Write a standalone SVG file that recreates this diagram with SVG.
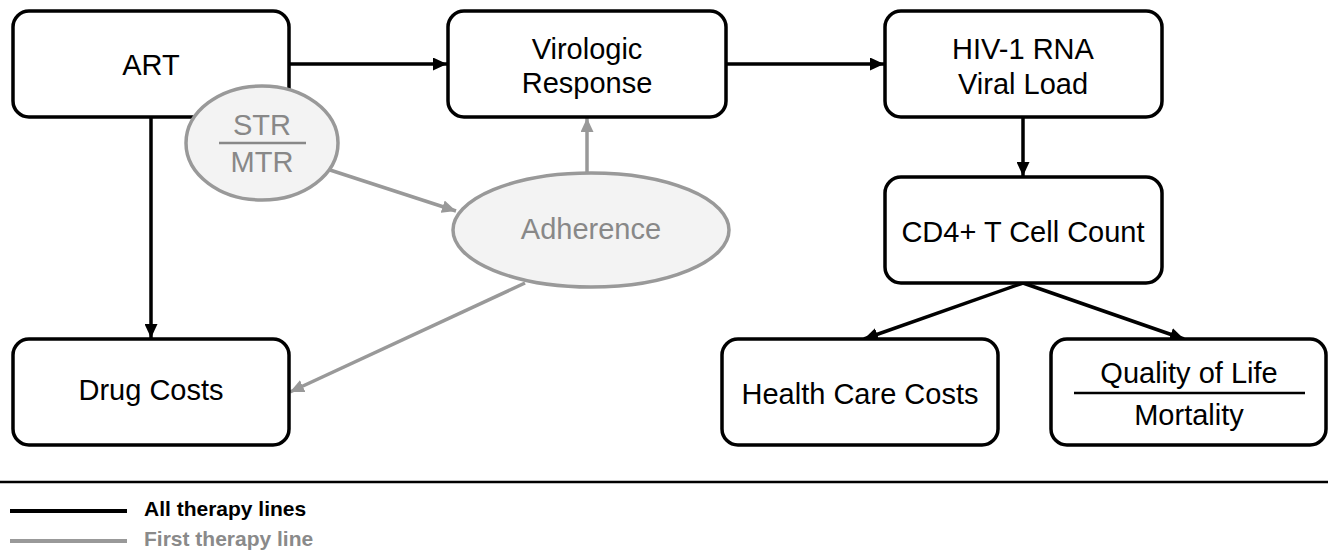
<svg xmlns="http://www.w3.org/2000/svg" width="1328" height="550" viewBox="0 0 1328 550">
<style>
.box{fill:#fff;stroke:#000;stroke-width:3.5}
.ell{fill:#f3f3f3;stroke:#999;stroke-width:3.5}
.t{font-family:"Liberation Sans",Arial,sans-serif;font-size:29px;fill:#000;text-anchor:middle}
.tg{font-family:"Liberation Sans",Arial,sans-serif;font-size:29px;fill:#888;text-anchor:middle}
.blk{stroke:#000;stroke-width:3.5;fill:none}
.gry{stroke:#999;stroke-width:3.5;fill:none}
.lg{font-family:"Liberation Sans",Arial,sans-serif;font-size:21px;font-weight:bold}
</style>
<defs>
<marker id="ab" markerUnits="userSpaceOnUse" markerWidth="15" markerHeight="13" refX="14" refY="6.5" orient="auto">
<path d="M0,0 L14,6.5 L0,13 z" fill="#000"/>
</marker>
<marker id="ag" markerUnits="userSpaceOnUse" markerWidth="15" markerHeight="13" refX="14" refY="6.5" orient="auto">
<path d="M0,0 L14,6.5 L0,13 z" fill="#999"/>
</marker>
</defs>
<g id="connectors">
<line class="blk" x1="289" y1="64" x2="447" y2="64" marker-end="url(#ab)"/>
<line class="blk" x1="726" y1="64" x2="884" y2="64" marker-end="url(#ab)"/>
<line class="blk" x1="1023" y1="117" x2="1023" y2="176" marker-end="url(#ab)"/>
<line class="blk" x1="151" y1="117" x2="151" y2="338" marker-end="url(#ab)"/>
<line class="blk" x1="1023" y1="283" x2="864" y2="339" marker-end="url(#ab)"/>
<line class="blk" x1="1023" y1="283" x2="1184" y2="339" marker-end="url(#ab)"/>
<line class="gry" x1="330" y1="170" x2="456" y2="211" marker-end="url(#ag)"/>
<line class="gry" x1="587" y1="173" x2="587" y2="118" marker-end="url(#ag)"/>
<line class="gry" x1="525" y1="283" x2="290" y2="392" marker-end="url(#ag)"/>
</g>
<g id="art">
<rect class="box" x="13" y="11" width="276" height="106" rx="16"/>
<text class="t" x="151" y="75">ART</text>
</g>
<g id="virologic">
<rect class="box" x="448" y="11" width="278" height="106" rx="16"/>
<text class="t" x="587" y="59">Virologic</text>
<text class="t" x="587" y="93">Response</text>
</g>
<g id="hiv">
<rect class="box" x="885" y="11" width="277" height="106" rx="16"/>
<text class="t" x="1023" y="59">HIV-1 RNA</text>
<text class="t" x="1023" y="94">Viral Load</text>
</g>
<g id="cd4">
<rect class="box" x="885" y="177" width="277" height="106" rx="16"/>
<text class="t" x="1023" y="242">CD4+ T Cell Count</text>
</g>
<g id="drug">
<rect class="box" x="13" y="339" width="276" height="106" rx="16"/>
<text class="t" x="151" y="400">Drug Costs</text>
</g>
<g id="health">
<rect class="box" x="722" y="339" width="276" height="106" rx="16"/>
<text class="t" x="860" y="404">Health Care Costs</text>
</g>
<g id="qol">
<rect class="box" x="1051" y="339" width="275" height="106" rx="16"/>
<text class="t" x="1189" y="383">Quality of Life</text>
<line x1="1074" y1="393" x2="1305" y2="393" stroke="#000" stroke-width="2.5"/>
<text class="t" x="1189" y="425">Mortality</text>
</g>
<g id="strmtr">
<ellipse class="ell" cx="262" cy="143" rx="76" ry="57"/>
<text class="tg" x="262" y="135">STR</text>
<line x1="219" y1="143" x2="306" y2="143" stroke="#888" stroke-width="2.5"/>
<text class="tg" x="262" y="172">MTR</text>
</g>
<g id="adherence">
<ellipse class="ell" cx="591" cy="230" rx="138" ry="57"/>
<text class="tg" x="591" y="239">Adherence</text>
</g>
<g id="legend">
<line x1="0" y1="482" x2="1328" y2="482" stroke="#000" stroke-width="2.5"/>
<line x1="10" y1="511" x2="127" y2="511" stroke="#000" stroke-width="4"/>
<text class="lg" x="144" y="516" fill="#000">All therapy lines</text>
<line x1="10" y1="541" x2="127" y2="541" stroke="#999" stroke-width="4"/>
<text class="lg" x="144" y="546" fill="#8a8a8a">First therapy line</text>
</g>
</svg>
